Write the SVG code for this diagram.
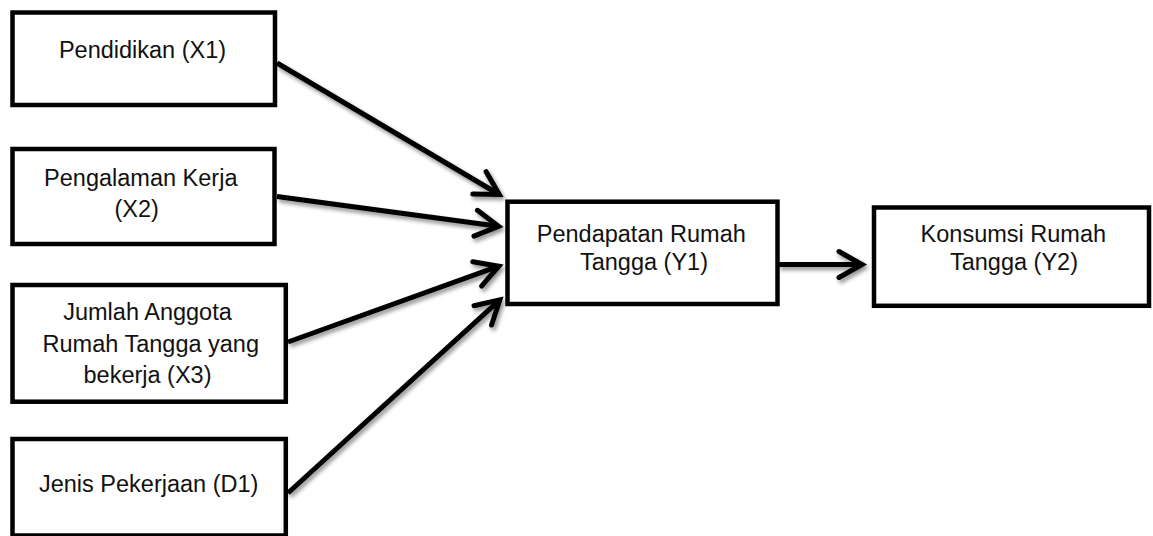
<svg xmlns="http://www.w3.org/2000/svg" width="1153" height="536" viewBox="0 0 1153 536">
  <style>
    .box { fill: #ffffff; stroke: #000000; stroke-width: 4.5; }
    .label { font-family: "Liberation Sans", Arial, sans-serif; font-size: 23.5px; fill: #111111; text-anchor: middle; }
    .link { fill: none; stroke: #000000; stroke-width: 5; stroke-linecap: butt; }
  </style>
  <defs>
    <marker id="chevron" markerUnits="userSpaceOnUse" markerWidth="40" markerHeight="40" refX="0" refY="0" orient="auto" overflow="visible">
      <path d="M-23,-13 L0,0 L-23,13" fill="none" stroke="#000000" stroke-width="5" stroke-linejoin="miter" stroke-linecap="round"/>
    </marker>
    <filter id="softShadow" x="-10%" y="-10%" width="130%" height="130%">
      <feGaussianBlur in="SourceAlpha" stdDeviation="2"/>
      <feOffset dx="2" dy="3" result="blur"/>
      <feComponentTransfer><feFuncA type="linear" slope="0.45"/></feComponentTransfer>
      <feMerge><feMergeNode/><feMergeNode in="SourceGraphic"/></feMerge>
    </filter>
  </defs>

  <rect width="1153" height="536" fill="#ffffff"/>

  <!-- connectors -->
  <g id="connectors" filter="url(#softShadow)">
    <line class="link" x1="277" y1="63" x2="499.2" y2="194.5" marker-end="url(#chevron)"/>
    <line class="link" x1="277" y1="196.5" x2="498.5" y2="226.3" marker-end="url(#chevron)"/>
    <line class="link" x1="288" y1="342" x2="498.8" y2="266.2" marker-end="url(#chevron)"/>
    <line class="link" x1="288" y1="493" x2="499.8" y2="299.9" marker-end="url(#chevron)"/>
    <line class="link" x1="778" y1="264.5" x2="862" y2="264.5" marker-end="url(#chevron)"/>
  </g>

  <!-- nodes -->
  <g id="x1">
    <rect class="box" x="12.5" y="12.5" width="262.5" height="92.5"/>
    <text class="label" x="142.5" y="58">Pendidikan (X1)</text>
  </g>
  <g id="x2">
    <rect class="box" x="12.5" y="149" width="262" height="95"/>
    <text class="label" x="140.8" y="186">Pengalaman Kerja</text>
    <text class="label" x="136.7" y="216.5">(X2)</text>
  </g>
  <g id="x3">
    <rect class="box" x="12.5" y="285" width="273.3" height="116.7"/>
    <text class="label" x="147.5" y="320">Jumlah Anggota</text>
    <text class="label" x="150.8" y="351.7">Rumah Tangga yang</text>
    <text class="label" x="147.5" y="383.3">bekerja (X3)</text>
  </g>
  <g id="d1">
    <rect class="box" x="12.5" y="439" width="273.3" height="96.5"/>
    <text class="label" x="148.7" y="492">Jenis Pekerjaan (D1)</text>
  </g>
  <g id="y1">
    <rect class="box" x="507.5" y="201.7" width="270" height="102.3"/>
    <text class="label" x="641.3" y="241.7">Pendapatan Rumah</text>
    <text class="label" x="644" y="270">Tangga (Y1)</text>
  </g>
  <g id="y2">
    <rect class="box" x="874" y="207.5" width="275" height="98.3"/>
    <text class="label" x="1013.3" y="241.7">Konsumsi Rumah</text>
    <text class="label" x="1014" y="270">Tangga (Y2)</text>
  </g>
</svg>
